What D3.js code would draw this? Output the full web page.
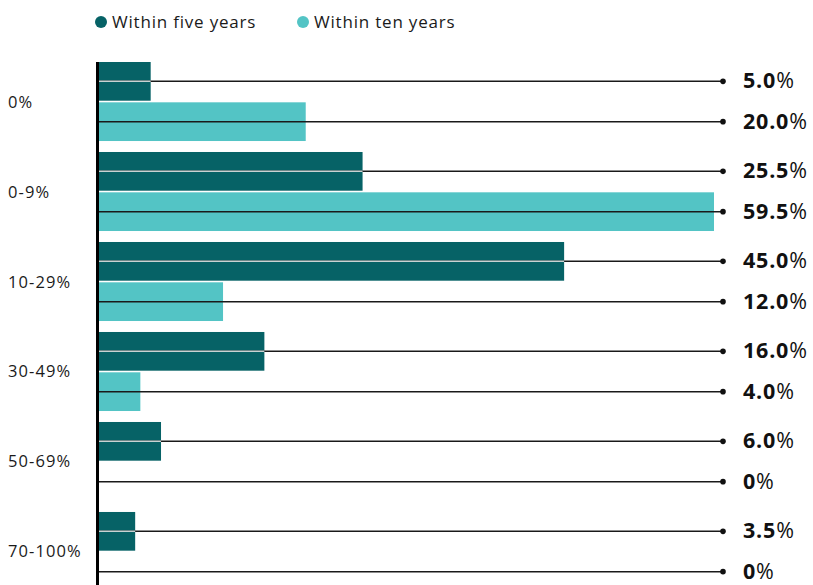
<!DOCTYPE html>
<html>
<head>
<meta charset="utf-8">
<script src="https://cdn.jsdelivr.net/npm/d3@7"></script>
<style>
  body { margin: 0; background: #fff; }
  svg { font-family: "Open Sans", "Lato", sans-serif; }
</style>
</head>
<body>
<svg id="chart" width="813" height="585"></svg>
<script>
const categories = ['0%', '0-9%', '10-29%', '30-49%', '50-69%', '70-100%'];
const series = ['Within five years', 'Within ten years'];
const fiveYears = [5.0, 25.5, 45.0, 16.0, 6.0, 3.5];
const tenYears = [20.0, 59.5, 12.0, 4.0, 0, 0];
const labelsFive = ['5.0', '25.5', '45.0', '16.0', '6.0', '3.5'];
const labelsTen = ['20.0', '59.5', '12.0', '4.0', '0', '0'];
const colors = ['#066266', '#53c4c5'];

const svg = d3.select('#chart');

const x = d3.scaleLinear().domain([0, 59.5]).range([99, 714]);
const y0 = d3.scaleBand().domain(categories).range([62, 591]).paddingInner(0.122);
const y1 = d3.scaleBand().domain(series).range([0, y0.bandwidth()]).paddingInner(0.04);
const lineEnd = 723;

const rows = [];
categories.forEach((c, i) => {
  rows.push({ cat: c, s: series[0], v: fiveYears[i], label: labelsFive[i], k: 0 });
  rows.push({ cat: c, s: series[1], v: tenYears[i], label: labelsTen[i], k: 1 });
});
const cy = d => y0(d.cat) + y1(d.s) + y1.bandwidth() / 2;

// legend
const legend = svg.append('g').attr('class', 'legend');
const legendX = [101, 303];
series.forEach((s, i) => {
  legend.append('circle').attr('cx', legendX[i]).attr('cy', 22).attr('r', 6).attr('fill', colors[i]);
  legend.append('text').attr('x', legendX[i] + 11).attr('y', 28)
    .attr('font-size', 17).attr('fill', '#1a1a1a').attr('letter-spacing', 0.8).text(s);
});

// bars
svg.append('g').selectAll('rect').data(rows).join('rect')
  .attr('x', x(0))
  .attr('y', d => y0(d.cat) + y1(d.s))
  .attr('width', d => x(d.v) - x(0))
  .attr('height', y1.bandwidth())
  .attr('fill', d => colors[d.k]);

// leader lines
const lines = svg.append('g');
lines.selectAll('line.lead').data(rows).join('line')
  .attr('class', 'lead')
  .attr('x1', x(0)).attr('x2', lineEnd)
  .attr('y1', cy).attr('y2', cy)
  .attr('stroke', '#1a1a1a').attr('stroke-width', 1.5);
lines.selectAll('line.over').data(rows.filter(d => d.k === 0 && d.v > 0)).join('line')
  .attr('class', 'over')
  .attr('x1', x(0)).attr('x2', d => x(d.v))
  .attr('y1', cy).attr('y2', cy)
  .attr('stroke', '#c9d2d2').attr('stroke-width', 1.5);
lines.selectAll('circle').data(rows).join('circle')
  .attr('cx', lineEnd).attr('cy', cy).attr('r', 2.8).attr('fill', '#111');

// value labels
const vl = svg.append('g').selectAll('text').data(rows).join('text')
  .attr('x', 743).attr('y', d => cy(d) + 7)
  .attr('font-size', 21.5).attr('fill', '#111').attr('letter-spacing', 0.8);
vl.append('tspan').attr('font-weight', 700).text(d => d.label);
vl.append('tspan').attr('font-weight', 400).text('%');

// category labels
svg.append('g').selectAll('text').data(categories).join('text')
  .attr('x', 8).attr('y', d => y0(d) + y0.bandwidth() / 2 + 6)
  .attr('font-size', 16.5).attr('fill', '#1a1a1a').attr('letter-spacing', 1.1)
  .text(d => d);

// axis
svg.append('line').attr('x1', 97.5).attr('x2', 97.5).attr('y1', 62).attr('y2', 585)
  .attr('stroke', '#000').attr('stroke-width', 3);
</script>
</body>
</html>
